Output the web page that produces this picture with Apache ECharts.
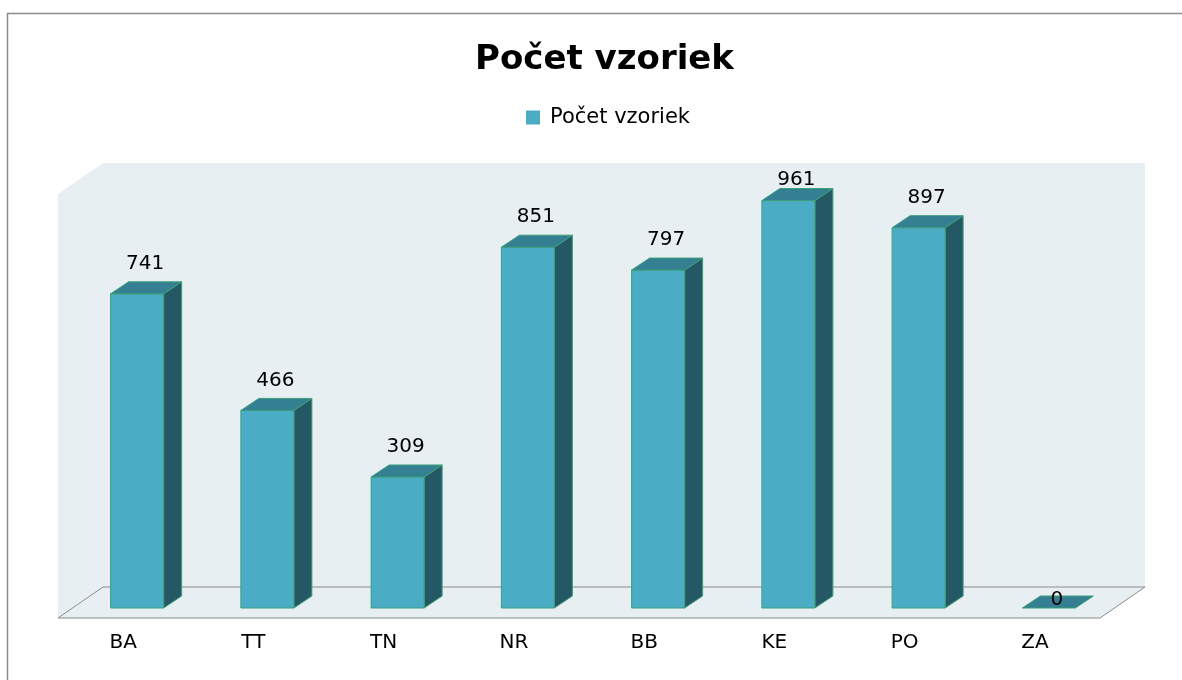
<!DOCTYPE html>
<html>
<head>
<meta charset="utf-8">
<script src="https://cdn.jsdelivr.net/npm/echarts@6/dist/echarts.min.js"></script>
<style>
  html, body { margin: 0; padding: 0; background: #fff; }
  #chart { width: 1182px; height: 680px; }
</style>
</head>
<body>
<div id="chart"></div>
<script>
var categories = ['BA', 'TT', 'TN', 'NR', 'BB', 'KE', 'PO', 'ZA'];
var counts = [741, 466, 309, 851, 797, 961, 897, 0];
var seriesName = 'Počet vzoriek';
var yMax = 1000;

// fake 3d depth (px): whole floor and single bar
var FLOOR_DX = 45, FLOOR_DY = -31;
var BAR_SHIFT_X = 14, BAR_SHIFT_Y = -10;
var BAR_DX = 18, BAR_DY = -12;
var FONT = '"DejaVu Sans", Verdana, sans-serif';

var myChart = echarts.init(document.getElementById('chart'));

function renderWalls(params, api) {
  var cs = params.coordSys;
  var x0 = cs.x, x1 = cs.x + cs.width;
  var yt = cs.y, yb = cs.y + cs.height;
  var fill = '#e7eff3';
  return {
    type: 'group',
    children: [
      { // back wall
        type: 'polygon',
        shape: { points: [[x0 + FLOOR_DX, yt + FLOOR_DY], [x1 + FLOOR_DX, yt + FLOOR_DY], [x1 + FLOOR_DX, yb + FLOOR_DY], [x0 + FLOOR_DX, yb + FLOOR_DY]] },
        style: { fill: fill }
      },
      { // left wall
        type: 'polygon',
        shape: { points: [[x0, yt], [x0 + FLOOR_DX, yt + FLOOR_DY], [x0 + FLOOR_DX, yb + FLOOR_DY], [x0, yb]] },
        style: { fill: fill }
      },
      { // floor
        type: 'polygon',
        shape: { points: [[x0, yb], [x0 + FLOOR_DX, yb + FLOOR_DY], [x1 + FLOOR_DX, yb + FLOOR_DY], [x1, yb]] },
        style: { fill: fill, stroke: '#8a8a8a', lineWidth: 1 }
      }
    ]
  };
}

function renderBar(params, api) {
  var i = api.value(0), v = api.value(1);
  var base = api.coord([i, 0]);
  var top = api.coord([i, v]);
  var w = api.size([1, 0])[0] * 0.407;
  var xl = base[0] + BAR_SHIFT_X - w / 2, xr = xl + w;
  var yb = base[1] + BAR_SHIFT_Y, yt = top[1] + BAR_SHIFT_Y;
  var edge = '#3c9f78';
  var wallTop = params.coordSys.y + FLOOR_DY;
  var labelY = v > 0 ? Math.max(yt - 30, wallTop + 17) : yt - 8;
  var children = [];
  if (v > 0) {
    children.push({
      type: 'polygon',
      shape: { points: [[xr, yt], [xr + BAR_DX, yt + BAR_DY], [xr + BAR_DX, yb + BAR_DY], [xr, yb]] },
      style: { fill: '#255865', stroke: edge, lineWidth: 1 }
    });
    children.push({
      type: 'rect',
      shape: { x: xl, y: yt, width: w, height: yb - yt },
      style: { fill: '#4bacc6', stroke: edge, lineWidth: 1 }
    });
  }
  children.push({
    type: 'polygon',
    shape: { points: [[xl, yt], [xr, yt], [xr + BAR_DX, yt + BAR_DY], [xl + BAR_DX, yt + BAR_DY]] },
    style: { fill: '#347f91', stroke: edge, lineWidth: 1 }
  });
  children.push({
    type: 'text',
    style: {
      text: String(v), x: (xl + xr) / 2 + 8, y: labelY,
      align: 'center', verticalAlign: 'middle',
      fontSize: 20, fontFamily: FONT, fill: '#000'
    }
  });
  return { type: 'group', children: children };
}

var option = {
  animation: false,
  title: {
    text: 'Počet vzoriek',
    left: 470,
    top: 38,
    textStyle: { fontSize: 34, fontWeight: 'bold', fontFamily: FONT, color: '#000' }
  },
  legend: {
    data: [seriesName],
    top: 102,
    left: 521,
    icon: 'rect',
    itemWidth: 14,
    itemHeight: 14,
    itemGap: 6,
    textStyle: { fontSize: 21, fontFamily: FONT, color: '#000', padding: [0, 0, 0, 5] }
  },
  graphic: [{
    type: 'rect',
    silent: true,
    shape: { x: 7.5, y: 13.5, width: 1200, height: 700 },
    style: { fill: null, stroke: '#8c8c8c', lineWidth: 1.5 }
  }],
  grid: { left: 58, right: 82, top: 194, bottom: 62 },
  xAxis: {
    type: 'category',
    data: categories,
    axisLine: { show: false },
    axisTick: { show: false },
    axisLabel: { fontSize: 20, fontFamily: FONT, color: '#000', margin: 15 }
  },
  yAxis: {
    type: 'value',
    min: 0,
    max: yMax,
    show: false,
    splitLine: { show: false }
  },
  series: [
    {
      type: 'custom',
      renderItem: renderWalls,
      data: [0],
      silent: true,
      z: 1
    },
    {
      name: seriesName,
      type: 'custom',
      renderItem: renderBar,
      itemStyle: { color: '#4bacc6', borderColor: '#3c9f78' },
      data: counts.map(function (v, i) { return [i, v]; }),
      z: 2
    }
  ]
};
myChart.setOption(option);
</script>
</body>
</html>
